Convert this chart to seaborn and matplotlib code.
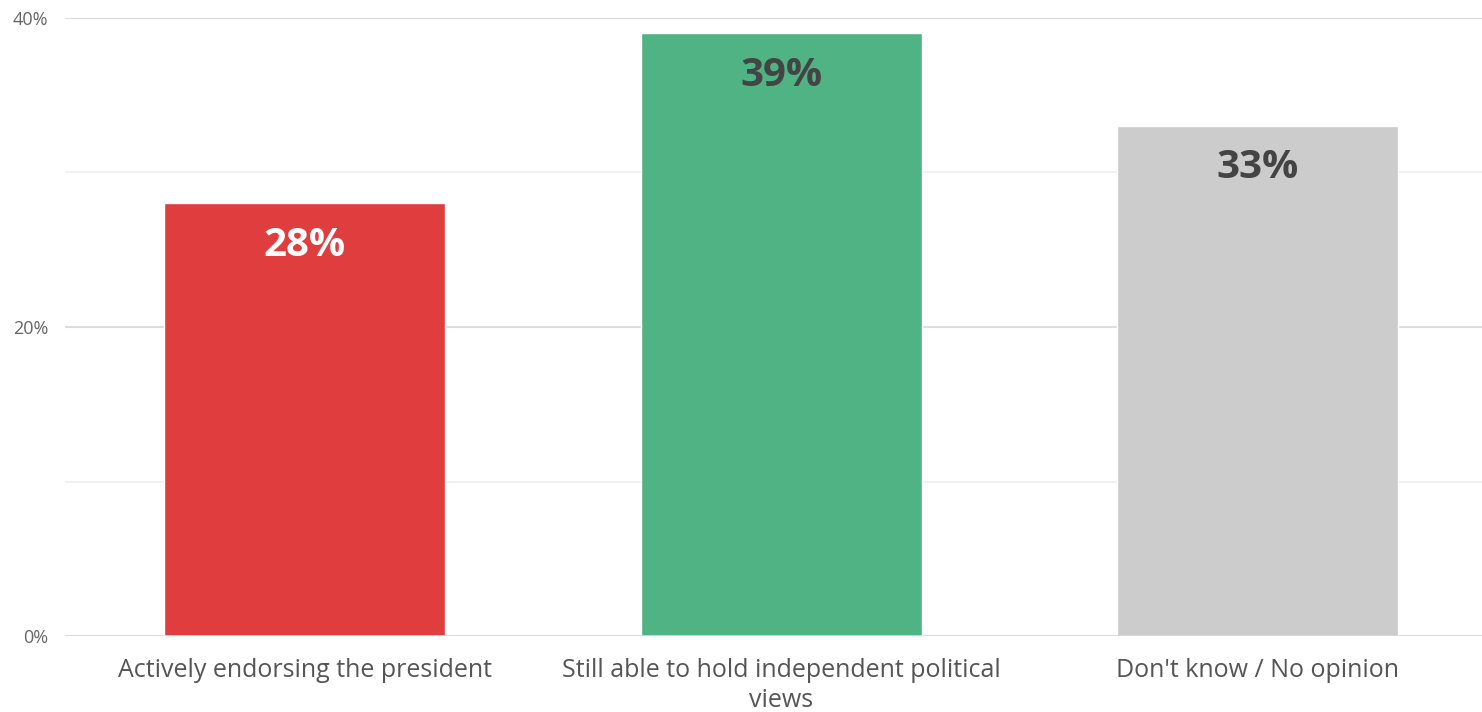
import numpy as np
import pandas as pd
import seaborn as sns
from matplotlib import pyplot as plt

# chart data
categories = ['Actively endorsing the president',
              'Still able to hold independent political\nviews',
              "Don't know / No opinion"]
values = [28, 39, 33]
bar_colors = ['#E03E3E', '#50B383', '#CCCCCC']
label_colors = ['#FFFFFF', '#444444', '#444444']
y_ticks = [0, 20, 40]
y_tick_labels = ['0%', '20%', '40%']

df = pd.DataFrame({'category': categories, 'value': values})

sns.set_style('white')
plt.rcParams['font.family'] = ['Open Sans', 'DejaVu Sans']

fig = plt.figure(figsize=(14.82, 7.12), dpi=100)
ax = fig.add_axes([65 / 1482, 76 / 712, 1417 / 1482, 618 / 712])

# gridlines
for y in [10, 30]:
    ax.axhline(y, color='#EFEFEF', lw=1.2, zorder=0)
for y in [20, 40]:
    ax.axhline(y, color='#DDDDDD', lw=1.5, zorder=0)
ax.axhline(0, color='#D8D8D8', lw=2, zorder=3)

sns.barplot(data=df, x='category', y='value', hue='category', palette=bar_colors,
            width=0.59, saturation=1, legend=False, ax=ax, zorder=2)

ax.set_ylim(0, 40)
ax.set_xlim(-0.503, 2.471)
ax.set_yticks(y_ticks)
ax.set_yticklabels(y_tick_labels, fontsize=13, color='#666666')
ax.set_xticks(range(len(categories)))
ax.set_xticklabels(categories, fontsize=18, color='#555555', linespacing=1.28)
ax.tick_params(axis='y', length=0, pad=12)
ax.tick_params(axis='x', length=0, pad=15.5)
ax.set_xlabel('')
ax.set_ylabel('')
sns.despine(ax=ax, left=True, bottom=True)

for i, (v, c) in enumerate(zip(values, label_colors)):
    ax.annotate(f'{v}%', (i, v), xytext=(0, -16), textcoords='offset points',
                ha='center', va='top', fontsize=29, fontweight='bold', color=c)

fig.savefig('out.png', dpi=100)
